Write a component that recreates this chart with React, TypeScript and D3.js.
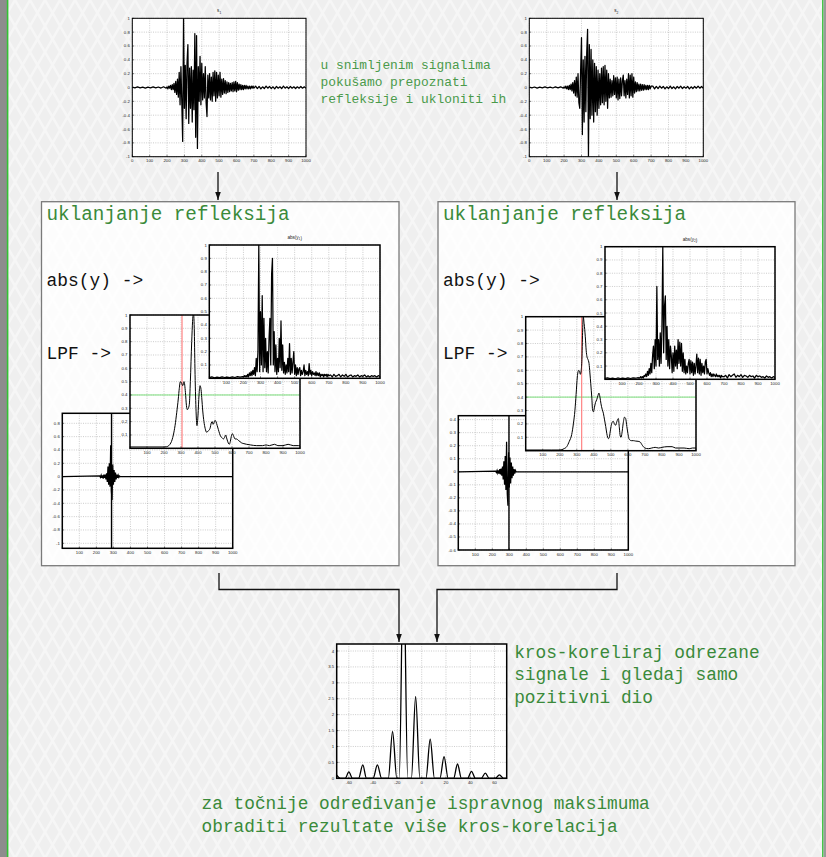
import * as d3 from "d3"
import React from "react"

// ---------- data ----------
// recorded signals s1, s2: lead (0..195, step 15), burst (200..700, step 5), tail (710..1000, step 10)
const s1Lead = [0.005, -0.005, 0.008, -0.006, 0.005, -0.008, 0.006, -0.005, 0.008, -0.006, 0.007, -0.008, 0.01, -0.01]
const s1Burst = [
  0.01, -0.02, 0.02, -0.01, 0.03, -0.03, 0.04, -0.03, 0.06, -0.07,
  0.09, -0.1, 0.12, -0.14, 0.22, -0.25, 0.3, -0.22, -0.78, 1.0,
  -0.3, 0.32, -0.45, 0.35, 0.62, -0.52, 0.28, -0.3, 0.3, -0.5,
  0.25, -0.32, 0.78, -0.72, 0.75, -0.88, 0.3, -0.2, 0.45, -0.25,
  0.35, -0.18, 0.2, -0.15, 0.3, -0.22, -0.42, 0.18, -0.15, 0.2,
  -0.18, 0.15, -0.2, 0.22, -0.12, 0.24, -0.2, 0.22, -0.15, 0.18,
  -0.12, 0.22, -0.14, 0.12, -0.1, 0.13, -0.08, 0.1, -0.09, 0.08,
  -0.07, 0.07, -0.06, 0.06, -0.05, 0.07, -0.06, 0.08, -0.05, 0.09,
  -0.06, 0.07, -0.04, 0.05, -0.03, 0.04, -0.03, 0.03, -0.03, 0.03,
  -0.02, 0.03, -0.02, 0.02, -0.02, 0.02, -0.02, 0.02, -0.01, 0.02,
  -0.01,
]
const s1Tail = [0.02, -0.015, 0.015, -0.02, 0.01, -0.015, 0.02, -0.01, 0.015, -0.015, 0.01, -0.02, 0.015, -0.01, 0.01, -0.015, 0.02, -0.01, 0.01, -0.015, 0.015, -0.01, 0.01, -0.015, 0.01, -0.01, 0.015, -0.01, 0.01, -0.01]

const s2Lead = [0.006, -0.005, 0.007, -0.008, 0.005, -0.006, 0.008, -0.005, 0.006, -0.007, 0.008, -0.006, 0.01, -0.009]
const s2Burst = [
  0.01, -0.01, 0.02, -0.02, 0.02, -0.03, 0.03, -0.03, 0.05, -0.05,
  0.07, -0.08, 0.1, -0.12, 0.15, -0.14, 0.2, -0.22, -0.3, 0.25,
  0.72, -0.68, 0.4, -0.5, 0.45, -0.35, 0.5, 0.84, -1.0, 0.62,
  -0.45, 0.55, -0.4, 0.4, -0.5, 0.35, -0.35, 0.3, -0.4, 0.25,
  -0.3, 0.2, -0.25, 0.28, -0.22, 0.3, -0.25, 0.32, -0.2, 0.25,
  -0.3, 0.2, -0.15, 0.12, -0.14, 0.1, -0.12, 0.17, -0.1, 0.14,
  -0.15, 0.15, -0.18, 0.12, -0.16, 0.14, -0.12, 0.1, 0.18, -0.12,
  0.1, -0.15, 0.12, -0.1, 0.2, -0.15, 0.18, -0.12, 0.2, -0.14,
  0.15, -0.08, 0.08, -0.06, 0.07, -0.05, 0.05, -0.05, 0.05, -0.04,
  0.04, -0.04, 0.04, -0.03, 0.03, -0.03, 0.03, -0.03, 0.03, -0.02,
  0.02,
]
const s2Tail = [0.02, -0.02, 0.015, -0.015, 0.02, -0.01, 0.015, -0.02, 0.01, -0.015, 0.02, -0.015, 0.01, -0.02, 0.015, -0.01, 0.02, -0.015, 0.01, -0.01, 0.015, -0.02, 0.01, -0.015, 0.015, -0.01, 0.02, -0.01, 0.015, -0.01]

// abs(y1), abs(y2), same sampling as above
const abs1Lead = [0.005, 0.01, 0.004, 0.008, 0.005, 0.01, 0.006, 0.009, 0.005, 0.01, 0.006, 0.012, 0.008, 0.012]
const abs1Burst = [
  0.01, 0.02, 0.01, 0.02, 0.01, 0.03, 0.01, 0.04, 0.02, 0.05,
  0.02, 0.06, 0.03, 0.08, 0.02, 0.15, 0.05, 0.2, 1.0, 0.05,
  0.5, 0.1, 0.62, 0.05, 0.45, 0.08, 0.3, 0.05, 0.2, 0.04,
  0.3, 0.45, 0.1, 0.78, 0.9, 0.1, 0.35, 0.05, 0.25, 0.03,
  0.15, 0.05, 0.3, 0.08, 0.43, 0.06, 0.25, 0.04, 0.12, 0.03,
  0.1, 0.04, 0.15, 0.05, 0.26, 0.03, 0.15, 0.04, 0.12, 0.2,
  0.03, 0.1, 0.02, 0.08, 0.03, 0.07, 0.08, 0.02, 0.06, 0.03,
  0.05, 0.1, 0.02, 0.06, 0.03, 0.05, 0.02, 0.11, 0.03, 0.06,
  0.02, 0.05, 0.03, 0.04, 0.02, 0.05, 0.02, 0.04, 0.02, 0.04,
  0.01, 0.03, 0.02, 0.03, 0.01, 0.03, 0.02, 0.03, 0.01, 0.03,
  0.02,
]
const abs1Tail = [0.025, 0.01, 0.03, 0.015, 0.02, 0.03, 0.01, 0.025, 0.015, 0.03, 0.01, 0.02, 0.025, 0.01, 0.02, 0.015, 0.025, 0.01, 0.02, 0.015, 0.025, 0.01, 0.02, 0.01, 0.02, 0.015, 0.02, 0.01, 0.02, 0.015]

const abs2Lead = [0.006, 0.01, 0.005, 0.009, 0.004, 0.01, 0.006, 0.008, 0.005, 0.011, 0.006, 0.01, 0.008, 0.012]
const abs2Burst = [
  0.01, 0.01, 0.02, 0.01, 0.02, 0.01, 0.03, 0.02, 0.04, 0.02,
  0.06, 0.03, 0.08, 0.04, 0.12, 0.05, 0.18, 0.25, 0.08, 0.3,
  0.1, 0.7, 0.15, 0.3, 0.1, 0.35, 0.12, 0.4, 1.0, 0.2,
  0.55, 0.63, 0.15, 0.4, 0.1, 0.3, 0.08, 0.25, 0.18, 0.05,
  0.2, 0.06, 0.25, 0.1, 0.22, 0.08, 0.3, 0.12, 0.28, 0.1,
  0.27, 0.06, 0.2, 0.05, 0.15, 0.04, 0.1, 0.05, 0.12, 0.15,
  0.04, 0.14, 0.05, 0.13, 0.03, 0.12, 0.04, 0.1, 0.19, 0.05,
  0.16, 0.04, 0.15, 0.03, 0.12, 0.05, 0.1, 0.04, 0.13, 0.15,
  0.04, 0.08, 0.05, 0.03, 0.05, 0.02, 0.04, 0.02, 0.04, 0.03,
  0.02, 0.04, 0.02, 0.03, 0.02, 0.03, 0.01, 0.03, 0.02, 0.02,
  0.02,
]
const abs2Tail = [0.03, 0.01, 0.035, 0.02, 0.03, 0.04, 0.015, 0.03, 0.02, 0.035, 0.015, 0.03, 0.025, 0.015, 0.03, 0.02, 0.025, 0.01, 0.03, 0.02, 0.025, 0.015, 0.02, 0.01, 0.025, 0.015, 0.02, 0.01, 0.02, 0.015]

// low-pass filtered envelopes [sample, value]
const lpf1 = [
  [0, 0.01], [100, 0.01], [200, 0.01], [216, 0.012], [240, 0.04], [255, 0.1], [265, 0.17], [275, 0.27],
  [284, 0.37], [290, 0.45], [296, 0.5], [303, 0.49], [310, 0.47], [318, 0.5], [326, 0.42], [332, 0.32],
  [337, 0.29], [343, 0.3], [349, 0.33], [355, 0.5], [363, 0.8], [368, 0.95], [373, 1.02], [378, 0.9],
  [382, 0.6], [388, 0.3], [394, 0.17], [400, 0.25], [406, 0.4], [412, 0.47], [418, 0.44], [422, 0.38],
  [428, 0.28], [435, 0.2], [442, 0.15], [451, 0.12], [460, 0.13], [471, 0.15], [478, 0.19], [484, 0.2],
  [489, 0.18], [494, 0.19], [500, 0.21], [506, 0.2], [513, 0.17], [520, 0.14], [527, 0.11], [533, 0.09],
  [541, 0.08], [549, 0.07], [556, 0.08], [563, 0.1], [570, 0.07], [578, 0.04], [584, 0.03], [590, 0.05],
  [596, 0.09], [602, 0.11], [610, 0.09], [618, 0.07], [627, 0.07], [637, 0.06], [647, 0.05], [657, 0.04],
  [670, 0.035], [686, 0.03], [710, 0.025], [745, 0.02], [780, 0.02], [800, 0.025], [820, 0.02], [850, 0.03],
  [870, 0.02], [900, 0.02], [930, 0.03], [960, 0.02], [990, 0.02], [1000, 0.02],
]
const lpf2 = [
  [0, 0.005], [150, 0.005], [201, 0.005], [225, 0.015], [241, 0.03], [256, 0.07], [270, 0.12], [280, 0.2],
  [289, 0.3], [296, 0.42], [303, 0.55], [311, 0.6], [316, 0.59], [321, 0.57], [326, 0.6], [330, 0.68],
  [334, 0.88], [338, 1.0], [343, 0.95], [350, 0.85], [355, 0.75], [360, 0.7], [366, 0.68], [372, 0.65],
  [377, 0.58], [382, 0.5], [388, 0.4], [393, 0.3], [398, 0.29], [403, 0.32], [410, 0.36], [417, 0.38],
  [424, 0.41], [430, 0.43], [436, 0.4], [442, 0.35], [449, 0.31], [456, 0.28], [463, 0.23], [470, 0.18],
  [476, 0.13], [481, 0.1], [486, 0.09], [491, 0.1], [496, 0.14], [501, 0.18], [507, 0.21], [514, 0.22],
  [521, 0.2], [528, 0.19], [536, 0.22], [544, 0.24], [550, 0.17], [555, 0.11], [560, 0.1], [565, 0.13],
  [572, 0.2], [580, 0.25], [587, 0.24], [594, 0.18], [600, 0.13], [606, 0.09], [612, 0.08], [620, 0.075],
  [632, 0.075], [645, 0.072], [660, 0.07], [672, 0.065], [685, 0.04], [700, 0.02], [720, 0.015], [740, 0.02],
  [760, 0.025], [780, 0.02], [800, 0.025], [830, 0.03], [860, 0.03], [880, 0.02], [900, 0.02], [930, 0.02],
  [960, 0.015], [980, 0.02], [1000, 0.02],
]
const lpfThreshold = 0.4
const lpf1Onset = 306
const lpf2Onset = 329

// cut (reflection-free) signals, 220..340 step 4, zero elsewhere
const cut1Burst = [0.01, -0.01, 0.02, -0.02, 0.02, -0.03, 0.03, -0.02, 0.03, -0.04, 0.05, -0.08, 0.15, -0.12, 0.2, -0.15, 0.47, -0.22, -0.35, 0.18, -0.12, 0.1, -0.08, 0.06, -0.04, 0.03, -0.02, 0.02, -0.01, 0.01, 0]
const cut2Burst = [0.005, -0.005, 0.01, -0.01, 0.01, -0.015, 0.02, -0.02, 0.025, -0.03, 0.04, -0.06, 0.08, -0.1, 0.12, -0.14, 0.23, -0.17, -0.26, 0.15, -0.12, 0.11, -0.09, 0.07, -0.05, 0.04, -0.03, 0.02, -0.015, 0.01, 0]
const cut1Marker = 289
const cut2Marker = 298

// positive part of the cross-correlation
const xcLag = [-70, -67, -63, -60, -57, -52, -48.5, -45.5, -40, -36.5, -33, -27.5, -24, -20.5, -18.5, -15, -11.5, -8.5, -5, -1.5, 3.5, 7, 10.5, 15, 18.4, 21.8, 26.3, 29.5, 32.7, 37.8, 41, 44.2, 49, 52.4, 55.6, 60.5, 64, 67.5, 70]
const xcVal = [0.1, 0, 0, 0.2, 0, 0, 0.42, 0, 0, 0.42, 0, 0, 1.47, 0, 0, 7, 0, 0, 2.57, 0, 0, 1.23, 0, 0, 0.68, 0, 0, 0.45, 0, 0, 0.22, 0, 0, 0.16, 0, 0, 0.11, 0, 0]

// ticks
const sampleTicks = [0, 100, 200, 300, 400, 500, 600, 700, 800, 900, 1000]
const sampleLabels = [100, 200, 300, 400, 500, 600, 700, 800, 900, 1000]
const signalTicks = [-1, -0.8, -0.6, -0.4, -0.2, 0, 0.2, 0.4, 0.6, 0.8, 1]
const unitTicks = [0, 0.1, 0.2, 0.3, 0.4, 0.5, 0.6, 0.7, 0.8, 0.9, 1]
const unitLabels = [0.1, 0.2, 0.3, 0.4, 0.5, 0.6, 0.7, 0.8, 0.9, 1]
const cut1Ticks = [-1, -0.8, -0.6, -0.4, -0.2, 0, 0.2, 0.4, 0.6, 0.8]
const cut2Ticks = [-0.6, -0.5, -0.4, -0.3, -0.2, -0.1, 0, 0.1, 0.2, 0.3, 0.4]
const lagTicks = [-60, -40, -20, 0, 20, 40, 60]
const xcTicks = [0, 0.5, 1, 1.5, 2, 2.5, 3, 3.5, 4]

// texts
const topNote = ["u snimljenim signalima", "pokušamo prepoznati", "refleksije i ukloniti ih"]
const boxTitle = "uklanjanje refleksija"
const absLabel = "abs(y) ->"
const lpfLabel = "LPF ->"
const xcNote = ["kros-koreliraj odrezane", "signale i gledaj samo", "pozitivni dio"]
const finalNote = ["za točnije određivanje ispravnog maksimuma", "obraditi rezultate više kros-korelacija"]

const MONO = "'Liberation Mono', 'DejaVu Sans Mono', monospace"
const SANS = "'Liberation Sans', Arial, sans-serif"
const GREEN = "#3a8a3a"

type Pt = [number, number]
const fromStep = (x0: number, step: number, vals: number[]): Pt[] => vals.map((v, i) => [x0 + i * step, v])
const joinSignal = (lead: number[], burst: number[], tail: number[]): Pt[] => [
  ...fromStep(0, 15, lead),
  ...fromStep(200, 5, burst),
  ...fromStep(710, 10, tail),
]
const cutSignal = (burst: number[]): Pt[] => [[0, 0], ...fromStep(220, 4, burst), [1000, 0]]

type Scale = d3.ScaleLinear<number, number>

interface PlotProps {
  id: string
  left: number
  top: number
  width: number
  height: number
  xDomain: [number, number]
  yDomain: [number, number]
  xTicks: number[]
  yTicks: number[]
  xLabels: number[]
  yLabels: number[]
  title?: React.ReactNode
  border?: number
  children: (sx: Scale, sy: Scale) => React.ReactNode
}

const Plot = ({ id, left, top, width, height, xDomain, yDomain, xTicks, yTicks, xLabels, yLabels, title, border = 1.3, children }: PlotProps) => {
  const sx = d3.scaleLinear().domain(xDomain).range([left, left + width])
  const sy = d3.scaleLinear().domain(yDomain).range([top + height, top])
  const bottom = top + height
  return (
    <g>
      <defs>
        <clipPath id={id}>
          <rect x={left} y={top} width={width} height={height} />
        </clipPath>
      </defs>
      <rect x={left} y={top} width={width} height={height} fill="#fff" />
      {/* grid */}
      {xTicks.map(t => (
        <line key={"gx" + t} x1={sx(t)} x2={sx(t)} y1={top} y2={bottom} stroke="#aaa" strokeWidth={0.6} strokeDasharray="1 1.3" />
      ))}
      {yTicks.map(t => (
        <line key={"gy" + t} x1={left} x2={left + width} y1={sy(t)} y2={sy(t)} stroke="#aaa" strokeWidth={0.6} strokeDasharray="1 1.3" />
      ))}
      <g clipPath={`url(#${id})`}>{children(sx, sy)}</g>
      <rect x={left} y={top} width={width} height={height} fill="none" stroke="#000" strokeWidth={border} />
      {/* inward ticks */}
      {xTicks.map(t => (
        <line key={"tx" + t} x1={sx(t)} x2={sx(t)} y1={bottom} y2={bottom - 1.8} stroke="#000" strokeWidth={0.5} />
      ))}
      {yTicks.map(t => (
        <line key={"ty" + t} x1={left} x2={left + 1.8} y1={sy(t)} y2={sy(t)} stroke="#000" strokeWidth={0.5} />
      ))}
      {/* labels */}
      <g fontFamily={SANS} fontSize={4.3} fill="#222">
        {xLabels.map(t => (
          <text key={"lx" + t} x={sx(t)} y={bottom + 5.5} textAnchor="middle">
            {String(t)}
          </text>
        ))}
        {yLabels.map(t => (
          <text key={"ly" + t} x={left - 2.5} y={sy(t) + 1.5} textAnchor="end">
            {String(t)}
          </text>
        ))}
      </g>
      {title && (
        <text x={left + width / 2} y={top - 6} textAnchor="middle" fontFamily={SANS} fontSize={4.6} fill="#222">
          {title}
        </text>
      )}
    </g>
  )
}

const lineOf = (sx: Scale, sy: Scale, curve: d3.CurveFactory = d3.curveLinear) =>
  d3.line<Pt>().x(d => sx(d[0])).y(d => sy(d[1])).curve(curve)

const Arrow = ({ points }: { points: Pt[] }) => {
  const [tx, ty] = points[points.length - 1]
  return (
    <g>
      <polyline points={points.map(p => p.join(",")).join(" ")} fill="none" stroke="#111" strokeWidth={1.3} />
      <path d={`M${tx - 2.8},${ty - 8} L${tx + 2.8},${ty - 8} L${tx},${ty} Z`} fill="#111" />
    </g>
  )
}

const Sub = ({ base, sub }: { base: string; sub: string }) => (
  <>
    {base}
    <tspan fontSize={3.2} dy={1.2}>{sub}</tspan>
  </>
)

export default function App() {
  const s1 = joinSignal(s1Lead, s1Burst, s1Tail)
  const s2 = joinSignal(s2Lead, s2Burst, s2Tail)
  const a1 = joinSignal(abs1Lead, abs1Burst, abs1Tail)
  const a2 = joinSignal(abs2Lead, abs2Burst, abs2Tail)
  const c1 = cutSignal(cut1Burst)
  const c2 = cutSignal(cut2Burst)
  const xc: Pt[] = xcLag.map((l, i) => [l, xcVal[i]])

  const signalPlot = (sig: Pt[]) => (sx: Scale, sy: Scale) => (
    <path d={lineOf(sx, sy)(sig) || ""} fill="none" stroke="#000" strokeWidth={1.25} strokeLinejoin="round" />
  )

  const lpfPlot = (sig: number[][], onset: number) => (sx: Scale, sy: Scale) => (
    <g>
      <line x1={sx(0)} x2={sx(1000)} y1={sy(lpfThreshold)} y2={sy(lpfThreshold)} stroke="#7de07d" strokeWidth={1} />
      <line x1={sx(onset)} x2={sx(onset)} y1={sy(0)} y2={sy(1)} stroke="#ff6b6b" strokeWidth={1} />
      <path d={lineOf(sx, sy, d3.curveMonotoneX)(sig as Pt[]) || ""} fill="none" stroke="#000" strokeWidth={1} />
    </g>
  )

  const cutPlot = (sig: Pt[], marker: number, yDom: [number, number]) => (sx: Scale, sy: Scale) => (
    <g>
      <path d={lineOf(sx, sy)(sig) || ""} fill="none" stroke="#000" strokeWidth={1.25} />
      <line x1={sx(marker)} x2={sx(marker)} y1={sy(yDom[0])} y2={sy(yDom[1])} stroke="#000" strokeWidth={1.4} />
    </g>
  )

  const cut1Dom: [number, number] = [-1.075, 0.95]
  const cut2Dom: [number, number] = [-0.6, 0.43]

  return (
    <svg width={826} height={857} style={{ position: "absolute", left: 0, top: 0, display: "block" }}>
      <defs>
        <pattern id="mesh" width={30} height={52} patternUnits="userSpaceOnUse">
          <path d="M0,0 L15,26 L0,52 M30,0 L15,26 L30,52 M15,0 L0,26 L15,52 M15,0 L30,26 L15,52" stroke="#fff" strokeWidth={2.5} fill="none" opacity={0.45} />
        </pattern>
      </defs>
      <rect x={0} y={0} width={826} height={857} fill="#efefef" />
      <rect x={0} y={0} width={826} height={857} fill="url(#mesh)" />
      <rect x={0} y={0} width={7} height={857} fill="#8d8d8d" />
      <line x1={7.6} x2={7.6} y1={0} y2={857} stroke="#33c233" strokeWidth={1.6} />
      <line x1={822.8} x2={822.8} y1={0} y2={857} stroke="#33c233" strokeWidth={1.4} />
      <rect x={823.6} y={0} width={3} height={857} fill="#9a9a9a" />

      {/* top note */}
      <g fontFamily={MONO} fontSize={12.9} fill="#4a9a4a">
        {topNote.map((t, i) => (
          <text key={t} x={320.5} y={69 + i * 17}>{t}</text>
        ))}
      </g>

      {/* recorded signals */}
      <Plot id="cs1" left={132.3} top={18.3} width={173.7} height={138.4} xDomain={[0, 1000]} yDomain={[-1, 1]}
        xTicks={sampleTicks} yTicks={signalTicks} xLabels={sampleTicks} yLabels={signalTicks} border={1}
        title={<Sub base="s" sub="1" />}>
        {signalPlot(s1)}
      </Plot>
      <Plot id="cs2" left={529.3} top={18.3} width={174} height={138.4} xDomain={[0, 1000]} yDomain={[-1, 1]}
        xTicks={sampleTicks} yTicks={signalTicks} xLabels={sampleTicks} yLabels={signalTicks} border={1}
        title={<Sub base="s" sub="2" />}>
        {signalPlot(s2)}
      </Plot>

      <Arrow points={[[218, 172], [218, 200]]} />
      <Arrow points={[[617, 172], [617, 200]]} />

      {/* processing boxes */}
      {[41.5, 438].map((bx, i) => (
        <g key={bx}>
          <rect x={bx} y={201.7} width={i === 0 ? 357.5 : 357} height={364} fill="#fff" fillOpacity={0.82} stroke="#7a7a7a" strokeWidth={1.3} />
          <text x={bx + 5} y={220} fontFamily={MONO} fontSize={19.3} fill={GREEN}>{boxTitle}</text>
          <text x={bx + 5} y={285.5} fontFamily={MONO} fontSize={17.9} fill="#111">{absLabel}</text>
          <text x={bx + 5} y={359} fontFamily={MONO} fontSize={17.9} fill="#111">{lpfLabel}</text>
        </g>
      ))}

      {/* left chain: cut -> LPF -> abs (stacked) */}
      <Plot id="cc1" left={62.3} top={413.3} width={170.4} height={135} xDomain={[0, 1000]} yDomain={cut1Dom}
        xTicks={sampleTicks} yTicks={cut1Ticks} xLabels={sampleLabels} yLabels={cut1Ticks} border={1.5}>
        {cutPlot(c1, cut1Marker, cut1Dom)}
      </Plot>
      <Plot id="cl1" left={130} top={315} width={170} height={133.3} xDomain={[0, 1000]} yDomain={[0, 1]}
        xTicks={sampleTicks} yTicks={unitTicks} xLabels={sampleLabels} yLabels={unitLabels} border={1.5}>
        {lpfPlot(lpf1, lpf1Onset)}
      </Plot>
      <Plot id="ca1" left={209.3} top={245} width={170.7} height={133.3} xDomain={[0, 1000]} yDomain={[0, 1]}
        xTicks={sampleTicks} yTicks={unitTicks} xLabels={sampleLabels} yLabels={unitLabels} border={1.5}
        title={<>abs(<Sub base="y" sub="1" />)</>}>
        {signalPlot(a1)}
      </Plot>

      {/* right chain */}
      <Plot id="cc2" left={458.3} top={415.7} width={170} height={134.3} xDomain={[0, 1000]} yDomain={cut2Dom}
        xTicks={sampleTicks} yTicks={cut2Ticks} xLabels={sampleLabels} yLabels={cut2Ticks} border={1.5}>
        {cutPlot(c2, cut2Marker, cut2Dom)}
      </Plot>
      <Plot id="cl2" left={525.7} top={316.7} width={170.3} height={134} xDomain={[0, 1000]} yDomain={[0, 1]}
        xTicks={sampleTicks} yTicks={unitTicks} xLabels={sampleLabels} yLabels={unitLabels} border={1.5}>
        {lpfPlot(lpf2, lpf2Onset)}
      </Plot>
      <Plot id="ca2" left={605} top={246.7} width={170} height={132.6} xDomain={[0, 1000]} yDomain={[0, 1]}
        xTicks={sampleTicks} yTicks={unitTicks} xLabels={sampleLabels} yLabels={unitLabels} border={1.5}
        title={<>abs(<Sub base="y" sub="2" />)</>}>
        {signalPlot(a2)}
      </Plot>

      {/* connectors to the cross-correlation */}
      <Arrow points={[[219, 573], [219, 589.5], [399, 589.5], [399, 642]]} />
      <Arrow points={[[617, 573], [617, 589.5], [437, 589.5], [437, 642]]} />

      <Plot id="cxc" left={336.7} top={644} width={170} height={134.3} xDomain={[-70, 70]} yDomain={[0, 4.22]}
        xTicks={lagTicks} yTicks={xcTicks} xLabels={lagTicks} yLabels={xcTicks} border={1.5}>
        {(sx, sy) => <path d={lineOf(sx, sy, d3.curveMonotoneX)(xc) || ""} fill="none" stroke="#000" strokeWidth={1.3} />}
      </Plot>

      <g fontFamily={MONO} fontSize={17.8} fill={GREEN}>
        {xcNote.map((t, i) => (
          <text key={t} x={514.2} y={658 + i * 22.3}>{t}</text>
        ))}
        {finalNote.map((t, i) => (
          <text key={t} x={201.6} y={808.5 + i * 23.4}>{t}</text>
        ))}
      </g>
    </svg>
  )
}
